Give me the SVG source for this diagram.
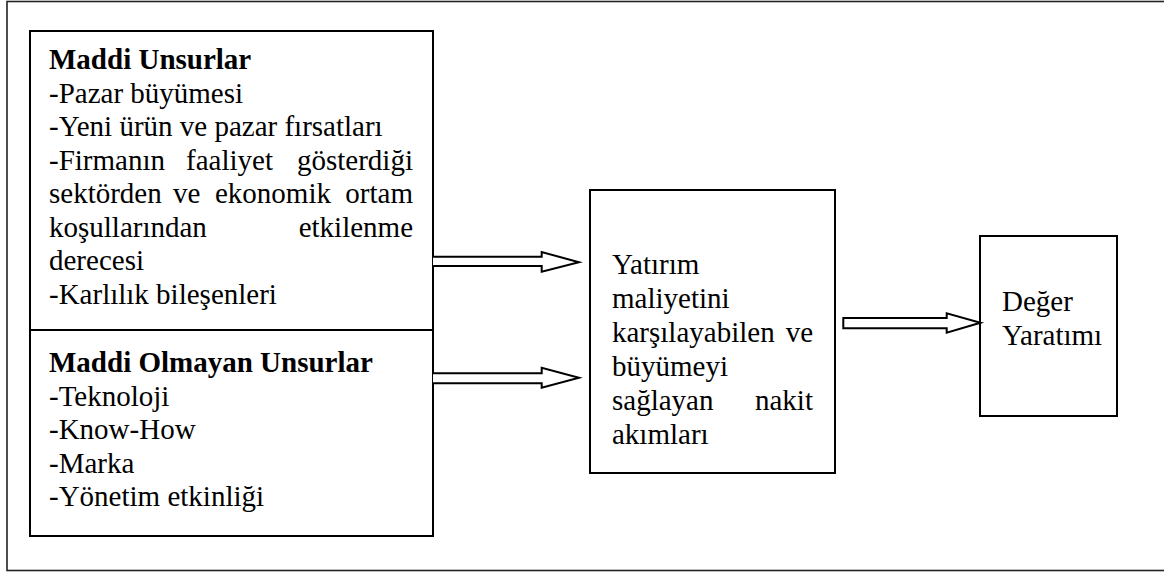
<svg xmlns="http://www.w3.org/2000/svg" width="1164" height="573" viewBox="0 0 1164 573">
<style>
.box{fill:#fff;stroke:#000;stroke-width:2}
.frame{fill:none;stroke:#222;stroke-width:1.6}
text{font-family:'Liberation Serif','Times New Roman',serif;font-size:29px;fill:#000}
.b{font-weight:bold}
.arrow{fill:#fff;stroke:#000;stroke-width:2;stroke-linejoin:miter}
</style>
<rect class="frame" x="7" y="1.5" width="1170" height="569"/>
<g id="maddi-unsurlar">
<rect class="box" x="30" y="31" width="403" height="299"/>
<text class="b" x="49" y="69">Maddi Unsurlar</text>
<text x="49" y="102.5">-Pazar büyümesi</text>
<text x="49" y="136">-Yeni ürün ve pazar fırsatları</text>
<text y="169.5"><tspan x="49">-Firmanın</tspan><tspan x="186">faaliyet</tspan><tspan x="413" text-anchor="end">gösterdiği</tspan></text>
<text y="203"><tspan x="49">sektörden</tspan><tspan x="173">ve</tspan><tspan x="215">ekonomik</tspan><tspan x="413" text-anchor="end">ortam</tspan></text>
<text y="236.5"><tspan x="49">koşullarından</tspan><tspan x="413" text-anchor="end">etkilenme</tspan></text>
<text x="49" y="270">derecesi</text>
<text x="49" y="303.5">-Karlılık bileşenleri</text>
</g>
<g id="maddi-olmayan-unsurlar">
<rect class="box" x="30" y="330" width="403" height="206"/>
<text class="b" x="49" y="372">Maddi Olmayan Unsurlar</text>
<text x="49" y="405.5">-Teknoloji</text>
<text x="49" y="439">-Know-How</text>
<text x="49" y="472.5">-Marka</text>
<text x="49" y="506">-Yönetim etkinliği</text>
</g>
<g id="nakit-akimlari">
<rect class="box" x="590" y="190" width="245" height="283"/>
<text x="612" y="274">Yatırım</text>
<text x="612" y="308">maliyetini</text>
<text y="342"><tspan x="612">karşılayabilen</tspan><tspan x="813" text-anchor="end">ve</tspan></text>
<text x="612" y="376">büyümeyi</text>
<text y="410"><tspan x="612">sağlayan</tspan><tspan x="813" text-anchor="end">nakit</tspan></text>
<text x="612" y="444">akımları</text>
</g>
<g id="deger-yaratimi">
<rect class="box" x="980" y="236" width="137" height="180"/>
<text x="1002" y="311">Değer</text>
<text x="1002" y="345">Yaratımı</text>
</g>
<g id="connectors">
<path class="arrow" d="M433,256.7 H541.7 V252 L579,262.3 L541.7,271.7 V266 H433"/>
<path class="arrow" d="M433,373.3 H541.7 V367.7 L579,377.7 L541.7,387.7 V383.3 H433"/>
<path class="arrow" d="M843.3,318 H946.7 V313.3 L980.5,322.7 L946.7,332.7 V328.3 H843.3 Z"/>
</g>
</svg>
